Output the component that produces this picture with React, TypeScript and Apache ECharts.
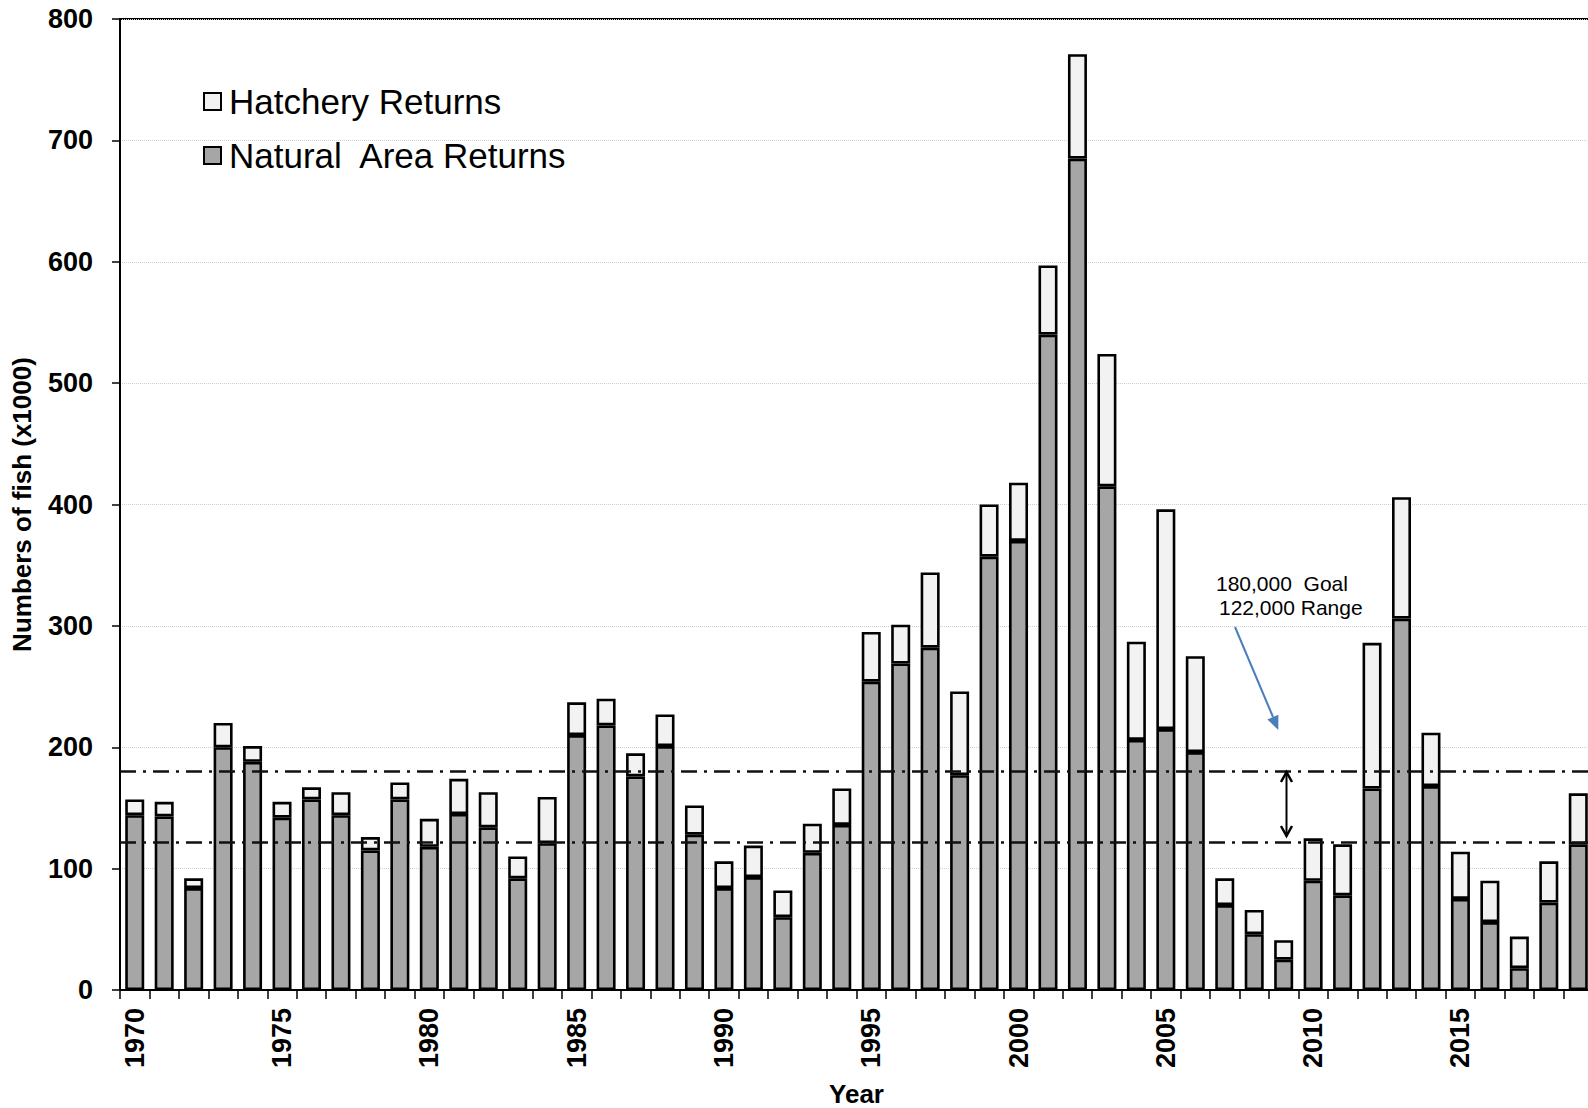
import React, { useEffect, useRef } from 'react';
import * as echarts from 'echarts';

const FONT = '"Liberation Sans", Arial, Helvetica, sans-serif';

const years = [
  '1970', '1971', '1972', '1973', '1974', '1975', '1976', '1977', '1978', '1979',
  '1980', '1981', '1982', '1983', '1984', '1985', '1986', '1987', '1988', '1989',
  '1990', '1991', '1992', '1993', '1994', '1995', '1996', '1997', '1998', '1999',
  '2000', '2001', '2002', '2003', '2004', '2005', '2006', '2007', '2008', '2009',
  '2010', '2011', '2012', '2013', '2014', '2015', '2016', '2017', '2018', '2019',
];

// thousands of fish
const naturalReturns = [
  144, 143, 84, 200, 188, 142, 157, 144, 115, 157,
  118, 145, 134, 92, 121, 210, 218, 176, 201, 128,
  84, 93, 60, 113, 136, 254, 269, 282, 177, 357,
  370, 540, 685, 415, 206, 215, 196, 70, 46, 25,
  90, 78, 166, 306, 168, 75, 56, 18, 72, 120,
];

const hatcheryReturns = [
  13, 12, 8, 20, 13, 13, 10, 19, 11, 14,
  23, 29, 29, 18, 38, 27, 22, 19, 26, 24,
  22, 26, 22, 24, 30, 41, 32, 62, 69, 43,
  48, 57, 86, 109, 81, 181, 79, 22, 20, 16,
  35, 42, 120, 100, 44, 39, 34, 26, 34, 42,
];

const goalLevel = 180;
const rangeLevel = 122;
const annotationLines = ['180,000  Goal', '122,000 Range'];
const legendNames = ['Hatchery Returns', 'Natural  Area Returns'];

export default function App() {
  const ref = useRef<HTMLDivElement>(null);

  useEffect(() => {
    if (!ref.current) return;
    const chart = echarts.init(ref.current, null, { renderer: 'svg' });
    const option: any = {
      animation: false,
      backgroundColor: '#ffffff',
      textStyle: { fontFamily: FONT },
      grid: {
        left: 120,
        top: 19,
        right: -5,
        bottom: 118,
        show: true,
        borderColor: '#000',
        borderWidth: 2,
        outerBoundsMode: 'none',
      },
      legend: {
        orient: 'vertical',
        left: 203,
        top: 84,
        padding: 0,
        itemWidth: 17,
        itemHeight: 17,
        itemGap: 19,
        icon: 'rect',
        data: legendNames,
        selectedMode: false,
        textStyle: {
          fontSize: 35,
          lineHeight: 35,
          color: '#000',
          fontFamily: FONT,
          padding: [0, 0, 0, 3],
        },
        itemStyle: { borderColor: '#000', borderWidth: 2 },
      },
      xAxis: {
        type: 'category',
        data: years,
        boundaryGap: true,
        name: 'Year',
        nameLocation: 'middle',
        nameGap: 91,
        nameTextStyle: { fontSize: 26, fontWeight: 'bold', color: '#000', fontFamily: FONT },
        axisLine: { lineStyle: { color: '#000', width: 2 } },
        axisTick: { show: true, interval: 0, length: 9, lineStyle: { color: '#000', width: 1.5 } },
        axisLabel: {
          interval: 4,
          rotate: 90,
          margin: 18,
          fontSize: 27,
          fontWeight: 'bold',
          color: '#000',
          fontFamily: FONT,
        },
        splitLine: { show: false },
      },
      yAxis: {
        type: 'value',
        min: 0,
        max: 800,
        interval: 100,
        name: 'Numbers of fish (x1000)',
        nameLocation: 'middle',
        nameGap: 85,
        nameTextStyle: { fontSize: 26, fontWeight: 'bold', color: '#000', fontFamily: FONT },
        axisLine: { show: true, lineStyle: { color: '#000', width: 2 } },
        axisTick: { show: true, length: 8, lineStyle: { color: '#000', width: 1.5 } },
        axisLabel: { margin: 27, fontSize: 27, fontWeight: 'bold', color: '#000', fontFamily: FONT },
        splitLine: { show: true, lineStyle: { color: '#cfcfcf', type: 'dotted', width: 1 } },
      },
      series: [
        {
          name: legendNames[1],
          type: 'bar',
          stack: 'total',
          data: naturalReturns,
          barWidth: 19,
          itemStyle: { color: '#a6a6a6', borderColor: '#000', borderWidth: 2.6 },
        },
        {
          name: legendNames[0],
          type: 'bar',
          stack: 'total',
          data: hatcheryReturns,
          barWidth: 19,
          itemStyle: { color: '#f2f2f2', borderColor: '#000', borderWidth: 2.6 },
          markLine: {
            silent: true,
            symbol: ['none', 'none'],
            label: { show: false },
            lineStyle: { color: '#111', width: 2.5, type: [16, 7, 3, 7] },
            data: [{ yAxis: goalLevel }, { yAxis: rangeLevel }],
          },
        },
      ],
      graphic: [
        {
          type: 'text',
          x: 1216,
          y: 583,
          style: {
            text: annotationLines[0],
            fontSize: 21,
            fontFamily: FONT,
            fill: '#000',
            align: 'left',
            verticalAlign: 'middle',
          },
        },
        {
          type: 'text',
          x: 1219,
          y: 607,
          style: {
            text: annotationLines[1],
            fontSize: 21,
            fontFamily: FONT,
            fill: '#000',
            align: 'left',
            verticalAlign: 'middle',
          },
        },
        {
          type: 'line',
          shape: { x1: 1235, y1: 627, x2: 1273, y2: 717 },
          style: { stroke: '#4a7ebb', lineWidth: 2 },
        },
        {
          type: 'polygon',
          shape: { points: [[1278.3, 730], [1267.4, 719.4], [1278.4, 714.8]] },
          style: { fill: '#4a7ebb' },
        },
        {
          type: 'line',
          shape: { x1: 1286.5, y1: 773, x2: 1286.5, y2: 835 },
          style: { stroke: '#000', lineWidth: 2 },
          z: 100,
        },
        {
          type: 'polyline',
          shape: { points: [[1281, 782], [1286.5, 772], [1292, 782]] },
          style: { stroke: '#000', lineWidth: 2.5, fill: null },
          z: 100,
        },
        {
          type: 'polyline',
          shape: { points: [[1281, 826], [1286.5, 836], [1292, 826]] },
          style: { stroke: '#000', lineWidth: 2.5, fill: null },
          z: 100,
        },
      ],
    };
    chart.setOption(option);
    return () => {
      chart.dispose();
    };
  }, []);

  return (
    <div
      ref={ref}
      style={{ position: 'fixed', left: 0, top: 0, width: 1588, height: 1108, background: '#fff' }}
    />
  );
}
